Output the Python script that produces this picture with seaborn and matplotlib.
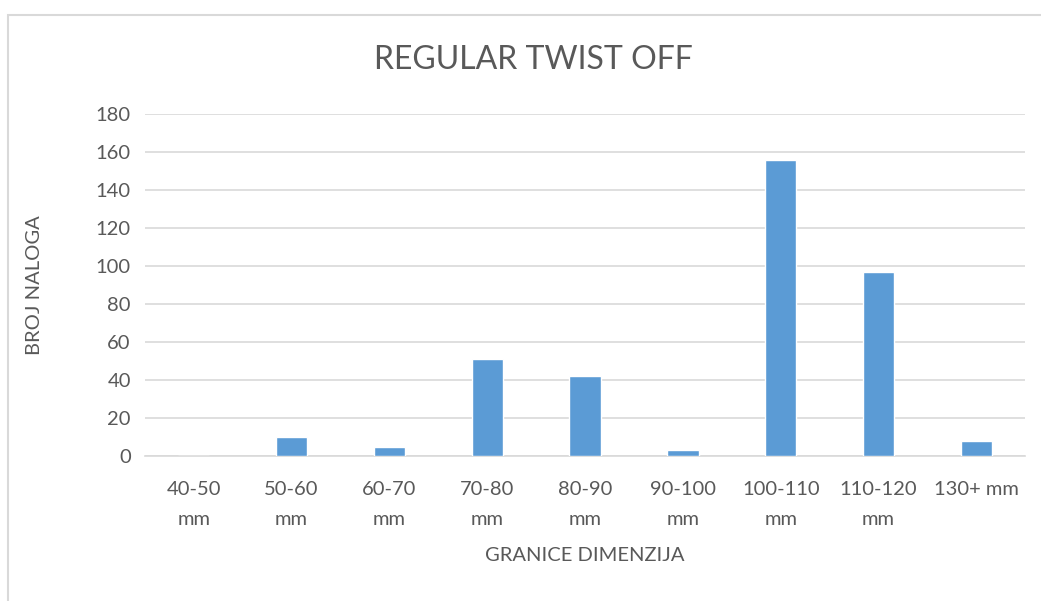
import pandas as pd
import seaborn as sns
import matplotlib.pyplot as plt
from matplotlib.patches import Rectangle

# Chart data
categories = ['40-50\nmm', '50-60\nmm', '60-70\nmm', '70-80\nmm', '80-90\nmm',
              '90-100\nmm', '100-110\nmm', '110-120\nmm', '130+ mm']
counts = [0, 10, 5, 51, 42, 3, 156, 97, 8]
y_ticks = [0, 20, 40, 60, 80, 100, 120, 140, 160, 180]

df = pd.DataFrame({'granica': categories, 'broj': counts})

sns.set_theme(style='white')
plt.rcParams['font.family'] = ['Lato', 'DejaVu Sans']
text_col = '#595959'

fig = plt.figure(figsize=(10.41, 6.01), dpi=100)
ax = fig.add_axes([0.139, 0.241, 0.846, 0.569])

sns.barplot(data=df, x='granica', y='broj', color='#5B9BD5', saturation=1,
            width=0.32, ax=ax, zorder=3)

ax.set_ylim(0, 180)
ax.set_yticks(y_ticks)
ax.yaxis.grid(True, color='#D9D9D9', linewidth=1.2, zorder=0)
for s in ['top', 'right', 'left']:
    ax.spines[s].set_visible(False)
ax.spines['bottom'].set_color('#D9D9D9')
ax.spines['bottom'].set_linewidth(1.2)
ax.tick_params(axis='both', length=0, labelsize=14.5, colors=text_col, pad=10)
ax.tick_params(axis='x', pad=18)
for lbl in ax.get_xticklabels():
    lbl.set_linespacing(1.9)

ax.set_xlabel('GRANICE DIMENZIJA', fontsize=14.5, color=text_col, labelpad=14)
ax.set_ylabel('BROJ NALOGA', fontsize=14.5, color=text_col, labelpad=38)
fig.text(0.512, 0.9, 'REGULAR TWIST OFF', ha='center', va='center',
         fontsize=23, color=text_col)

# outer chart frame
fig.patches.append(Rectangle((0.008, -0.01), 1.1, 0.985, transform=fig.transFigure,
                             fill=False, edgecolor='#D9D9D9', linewidth=1.5))

fig.savefig('out.png', dpi=100)
